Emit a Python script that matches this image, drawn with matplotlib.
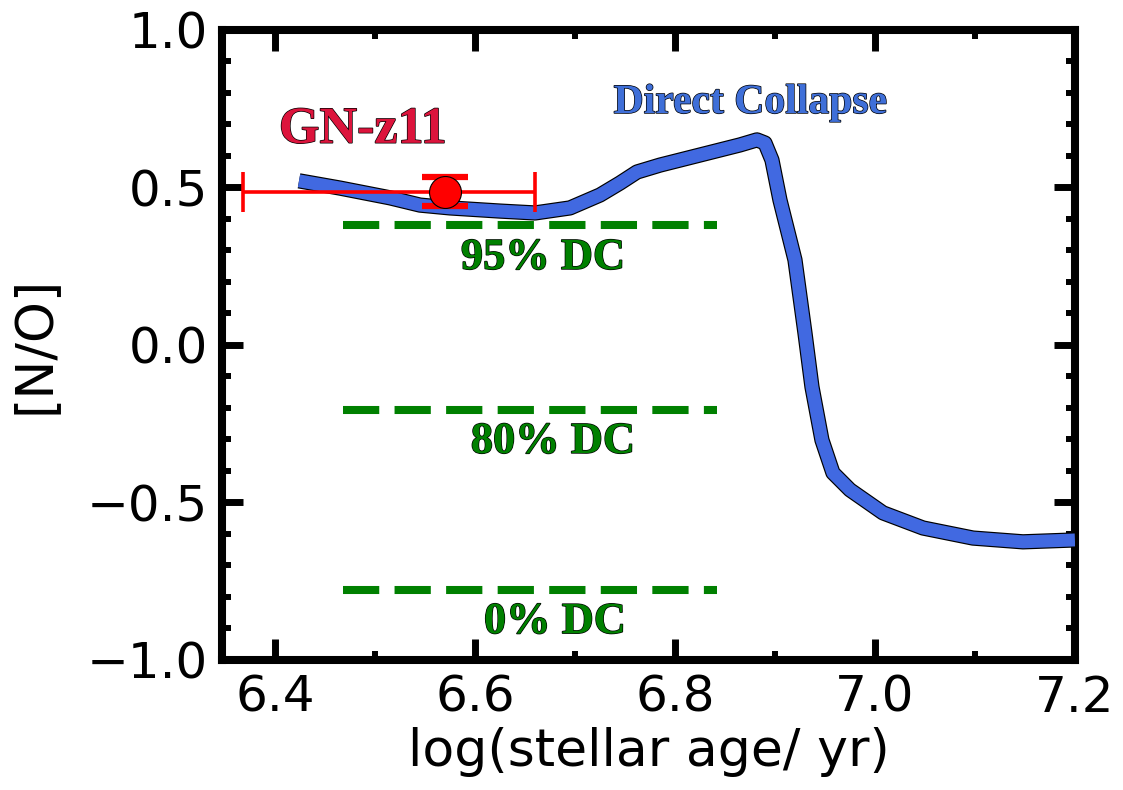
import matplotlib
matplotlib.use("Agg")
import matplotlib.pyplot as plt
import matplotlib.patheffects as pe
from matplotlib.ticker import MultipleLocator

# Direct-collapse model track: log(age) vs [N/O]
age = [6.424, 6.465, 6.515, 6.545, 6.575, 6.625, 6.66, 6.695, 6.725, 6.745,
       6.762, 6.785, 6.825, 6.865, 6.882, 6.89, 6.897, 6.905, 6.92, 6.93,
       6.937, 6.947, 6.958, 6.975, 7.008, 7.048, 7.098, 7.148, 7.2]
n_o = [0.521, 0.498, 0.467, 0.444, 0.435, 0.425, 0.419, 0.435, 0.476, 0.514,
       0.549, 0.571, 0.603, 0.635, 0.651, 0.641, 0.587, 0.46, 0.27, 0.038,
       -0.133, -0.302, -0.406, -0.46, -0.533, -0.581, -0.613, -0.625, -0.619]

# GN-z11 measurement
obs_age = 6.57
obs_age_err_lo = 0.202
obs_age_err_hi = 0.09
obs_no = 0.487
obs_no_err = 0.045

# Reference DC fractions
dc_labels = ["95% DC", "80% DC", "0% DC"]
dc_levels = [0.381, -0.206, -0.778]
dc_xrange = [6.468, 6.842]

fig = plt.figure(figsize=(11.23, 7.9), dpi=100)
ax = fig.add_axes([0.1977, 0.1646, 0.7595, 0.7975])

serif = ["Liberation Serif", "DejaVu Serif"]
outline = [pe.withStroke(linewidth=1.0, foreground="black")]

ax.plot(age, n_o, color="#4169E1", lw=9.3, solid_capstyle="butt",
        solid_joinstyle="round",
        path_effects=[pe.Stroke(linewidth=11.0, foreground="black",
                                capstyle="butt"), pe.Normal()], zorder=3)

for lvl in dc_levels:
    ax.plot(dc_xrange, [lvl, lvl], color="green", lw=5.8,
            dashes=(4.5, 1.9), dash_capstyle="butt", zorder=2)

# horizontal (age) error bar
ax.errorbar([obs_age], [obs_no], xerr=[[obs_age_err_lo], [obs_age_err_hi]],
            fmt="none", ecolor="red", elinewidth=2.6, capsize=14.5,
            capthick=2.6, zorder=4)
# vertical ([N/O]) error bar with wide caps
ax.errorbar([obs_age], [obs_no], yerr=obs_no_err, fmt="none", ecolor="red",
            elinewidth=2.6, capsize=16.5, capthick=4.5, zorder=4)
ax.plot([obs_age], [obs_no], "o", color="red", ms=23, mec="black",
        mew=0.8, zorder=5)

ax.text(6.488, 0.683, "GN-z11", color="#DC143C", fontsize=37.5,
        fontweight="bold", family=serif, ha="center", va="center",
        path_effects=outline)
ax.text(6.875, 0.768, "Direct Collapse", color="#3F6FD8", fontsize=30,
        fontweight="bold", family=serif, ha="center", va="center",
        path_effects=outline)
label_pos = [(6.668, 0.276), (6.678, -0.308), (6.68, -0.88)]
for txt, (lx, ly) in zip(dc_labels, label_pos):
    ax.text(lx, ly, txt, color="green", fontsize=32, fontweight="bold",
            family=serif, ha="center", va="center", path_effects=outline)

ax.set_xlim(6.347, 7.2)
ax.set_ylim(-1.0, 1.0)
ax.xaxis.set_minor_locator(MultipleLocator(0.1))
ax.yaxis.set_minor_locator(MultipleLocator(0.1))
ax.set_yticks([-1.0, -0.5, 0.0, 0.5, 1.0])
ax.set_yticklabels(["\u22121.0", "\u22120.5", "0.0", "0.5", "1.0"])
ax.set_xticks([6.4, 6.6, 6.8, 7.0, 7.2])
ax.set_xticklabels(["6.4", "6.6", "6.8", "7.0", "7.2"])

ax.tick_params(which="both", direction="in", top=True, right=True,
               labelsize=36, pad=10)
ax.tick_params(which="major", length=15, width=5)
ax.tick_params(which="minor", length=6.5, width=4.3)
for sp in ax.spines.values():
    sp.set_linewidth(5.8)

ax.set_xlabel("log(stellar age/ yr)", fontsize=37.5, labelpad=4)
ax.set_ylabel("[N/O]", fontsize=37.5, labelpad=20)

fig.savefig("out.png", dpi=100)
